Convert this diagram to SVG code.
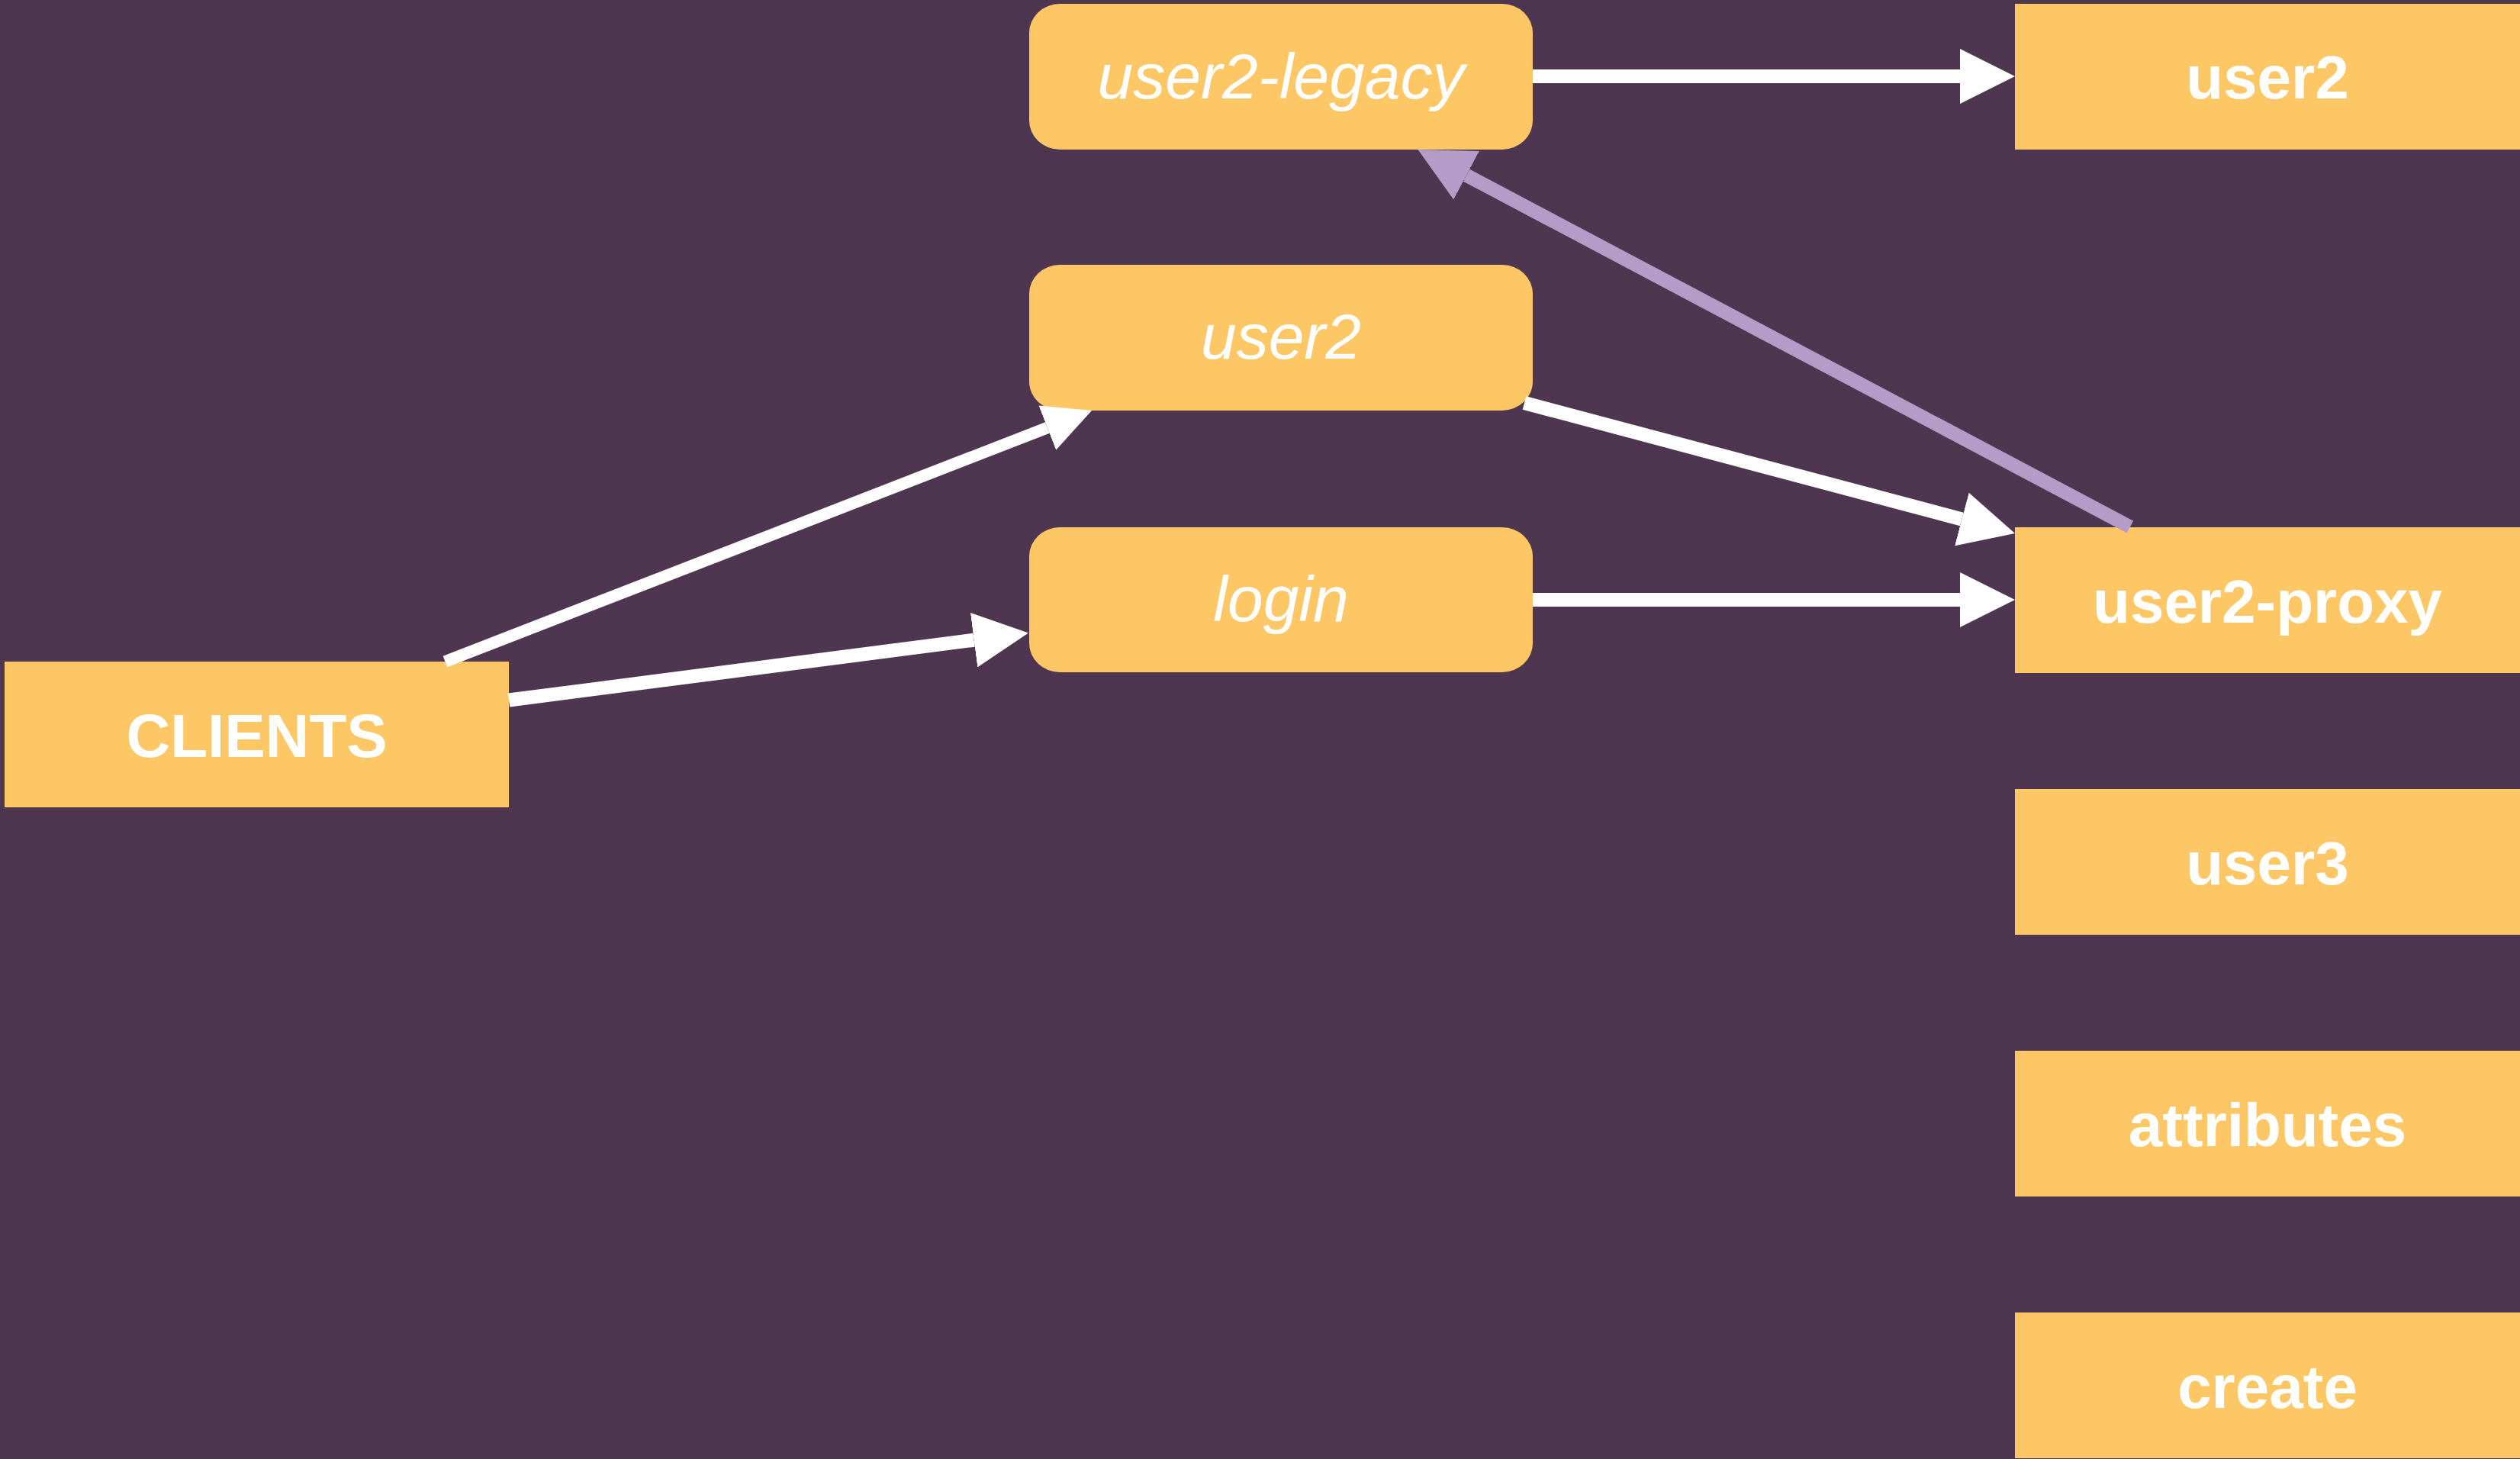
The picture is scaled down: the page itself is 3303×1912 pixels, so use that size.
<svg xmlns="http://www.w3.org/2000/svg" width="3303" height="1912" viewBox="0 0 3303 1912">
<style>
.box{fill:#FEC766}
.lbl{fill:#FFFFFF;font-family:"Liberation Sans",Arial,sans-serif;font-size:80px;font-weight:bold;text-anchor:middle}
.ital{fill:#FFFFFF;font-family:"Liberation Sans",Arial,sans-serif;font-size:84px;font-style:italic;text-anchor:middle}
.edge{fill:none;stroke:#FFFFFF;stroke-width:18;stroke-linecap:butt}
.back{stroke:#B59BC8}
</style>
<defs>
<marker id="arrW" viewBox="0 0 4 4" refX="0" refY="2" markerWidth="4" markerHeight="4" markerUnits="strokeWidth" orient="auto">
<path d="M0,0 L4,2 L0,4 z" fill="#FFFFFF"/>
</marker>
<marker id="arrL" viewBox="0 0 4 4" refX="0" refY="2" markerWidth="4" markerHeight="4" markerUnits="strokeWidth" orient="auto">
<path d="M0,0 L4,2 L0,4 z" fill="#B59BC8"/>
</marker>
</defs>
<rect x="0" y="0" width="3303" height="1912" fill="#4E3650"/>
<g id="clients"><rect class="box" x="6" y="867" width="661" height="191"/><text class="lbl" x="336.5" y="992">CLIENTS</text></g>
<g id="user2-legacy"><rect class="box" x="1349" y="5" width="660" height="191" rx="40" ry="38"/><text class="ital" x="1679" y="128.5">user2-legacy</text></g>
<g id="user2-mid"><rect class="box" x="1349" y="347" width="660" height="191" rx="40" ry="38"/><text class="ital" x="1679" y="470">user2</text></g>
<g id="login"><rect class="box" x="1349" y="691" width="660" height="190" rx="40" ry="38"/><text class="ital" x="1679" y="814">login</text></g>
<g id="user2-right"><rect class="box" x="2641" y="5" width="662" height="191"/><text class="lbl" x="2972" y="129">user2</text></g>
<g id="user2-proxy"><rect class="box" x="2641" y="691" width="662" height="191"/><text class="lbl" x="2972" y="815.5">user2-proxy</text></g>
<g id="user3"><rect class="box" x="2641" y="1034" width="662" height="191"/><text class="lbl" x="2972" y="1158.5">user3</text></g>
<g id="attributes"><rect class="box" x="2641" y="1377" width="662" height="191"/><text class="lbl" x="2972" y="1501.5">attributes</text></g>
<g id="create"><rect class="box" x="2641" y="1720" width="662" height="191"/><text class="lbl" x="2972" y="1845">create</text></g>
<g id="connectors">
<line class="edge" x1="2009" y1="100" x2="2569" y2="100" marker-end="url(#arrW)"/>
<line class="edge" x1="2009" y1="786" x2="2569" y2="786" marker-end="url(#arrW)"/>
<line class="edge" x1="1998" y1="528" x2="2571.4" y2="680.5" marker-end="url(#arrW)"/>
<line class="edge" x1="583.5" y1="867" x2="1372.8" y2="560.6" style="stroke-width:15.6" marker-end="url(#arrW)"/>
<line class="edge" x1="667" y1="917.5" x2="1276.6" y2="838.7" marker-end="url(#arrW)"/>
<line class="edge back" x1="2792" y1="690.5" x2="1922.1" y2="229.7" marker-end="url(#arrL)"/>
</g>
</svg>
